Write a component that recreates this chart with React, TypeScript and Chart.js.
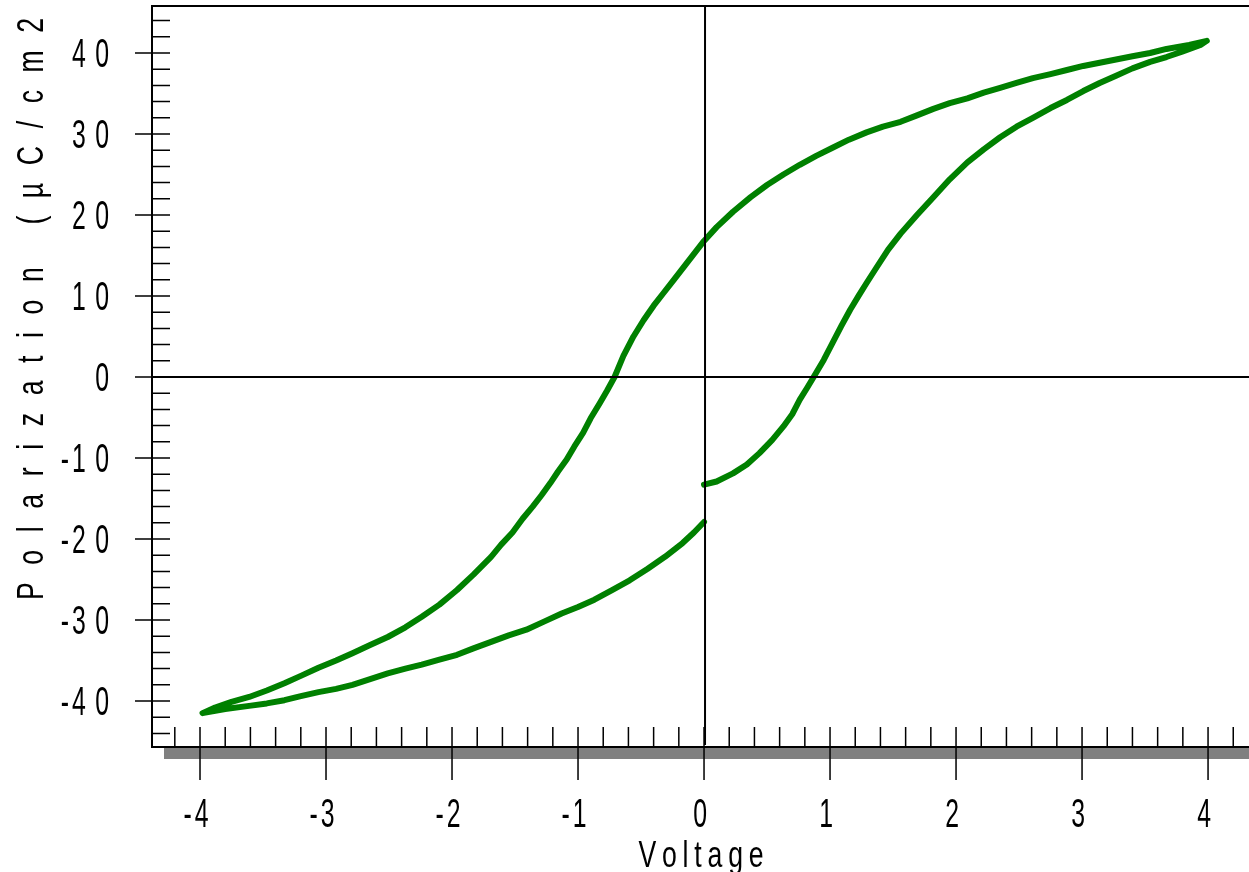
import React, { useEffect, useRef } from "react";
import { Chart, registerables } from "chart.js";

Chart.register(...registerables);

// Rising branch (0 V -> +4 V)
const riseV = [0.0, 0.1, 0.23, 0.34, 0.44, 0.54, 0.63, 0.7, 0.76, 0.82, 0.87, 0.95, 1.02, 1.09, 1.16, 1.23, 1.29, 1.36, 1.46, 1.56, 1.69, 1.82, 1.95, 2.09, 2.22, 2.35, 2.48, 2.61, 2.75, 2.88, 3.01, 3.14, 3.27, 3.4, 3.54, 3.67, 3.8, 3.94, 3.99];
const riseP = [-13.3, -12.9, -11.9, -10.8, -9.4, -7.8, -6.1, -4.6, -2.8, -1.3, 0, 2.1, 4.2, 6.3, 8.3, 10.1, 11.6, 13.3, 15.7, 17.7, 20.0, 22.2, 24.4, 26.5, 28.1, 29.6, 30.9, 32.0, 33.2, 34.2, 35.3, 36.3, 37.2, 38.1, 38.9, 39.5, 40.2, 41.0, 41.5];

// Upper branch (+4 V -> -4 V)
const upperV = [3.99, 3.85, 3.67, 3.54, 3.4, 3.27, 3.14, 3.01, 2.88, 2.75, 2.61, 2.48, 2.35, 2.22, 2.09, 1.95, 1.82, 1.69, 1.56, 1.42, 1.29, 1.15, 1.02, 0.89, 0.76, 0.63, 0.5, 0.37, 0.23, 0.1, 0.0, -0.08, -0.16, -0.24, -0.32, -0.4, -0.48, -0.56, -0.64, -0.71, -0.77, -0.83, -0.9, -0.96, -1.03, -1.09, -1.16, -1.22, -1.29, -1.36, -1.44, -1.52, -1.61, -1.69, -1.83, -1.96, -2.1, -2.24, -2.37, -2.51, -2.65, -2.79, -2.92, -3.06, -3.2, -3.33, -3.47, -3.61, -3.75, -3.88, -3.98];
const upperP = [41.5, 41.0, 40.5, 40.0, 39.6, 39.2, 38.8, 38.4, 37.9, 37.4, 36.9, 36.3, 35.7, 35.1, 34.4, 33.8, 33.1, 32.3, 31.5, 30.9, 30.2, 29.3, 28.3, 27.3, 26.2, 25.0, 23.7, 22.2, 20.4, 18.5, 16.8, 15.2, 13.6, 12.0, 10.4, 8.8, 7.0, 5.0, 2.6, 0, -1.7, -3.3, -5.1, -6.9, -8.6, -10.2, -11.7, -13.1, -14.6, -16.0, -17.5, -19.2, -20.7, -22.2, -24.4, -26.3, -28.1, -29.6, -30.9, -32.1, -33.1, -34.1, -35.0, -35.9, -36.9, -37.8, -38.7, -39.5, -40.1, -40.8, -41.5];

// Lower branch (-4 V -> 0 V)
const lowerV = [-3.98, -3.8, -3.61, -3.47, -3.33, -3.2, -3.06, -2.92, -2.79, -2.65, -2.51, -2.37, -2.24, -2.1, -1.96, -1.83, -1.69, -1.55, -1.41, -1.27, -1.13, -1.0, -0.87, -0.73, -0.59, -0.45, -0.31, -0.17, -0.08, 0.0];
const lowerP = [-41.5, -41.0, -40.6, -40.3, -39.9, -39.4, -38.9, -38.5, -38.0, -37.3, -36.6, -36.0, -35.5, -34.9, -34.3, -33.5, -32.7, -31.9, -31.2, -30.2, -29.2, -28.4, -27.5, -26.3, -25.1, -23.7, -22.2, -20.5, -19.2, -17.9];

const xTickValues = [-4, -3, -2, -1, 0, 1, 2, 3, 4];
const xTickLabels = ["-4", "-3", "-2", "-1", "0", "1", "2", "3", "4"];
const yTickValues = [-40, -30, -20, -10, 0, 10, 20, 30, 40];
const yTickLabels = ["-40", "-30", "-20", "-10", "0", "10", "20", "30", "40"];

const xTitle = "Voltage";
const yTitle = "Polarization (µC/cm2";

function toPoints(vs: number[], ps: number[]) {
  return vs.map((v, i) => ({ x: v, y: ps[i] }));
}

function drawSpaced(
  ctx: CanvasRenderingContext2D,
  text: string,
  x: number,
  y: number,
  font: string,
  scaleX: number,
  spacing: number,
  align: "left" | "center" | "right",
  rotate = false
) {
  ctx.save();
  ctx.translate(x, y);
  if (rotate) ctx.rotate(-Math.PI / 2);
  ctx.font = font;
  ctx.fillStyle = "#000";
  ctx.textBaseline = "alphabetic";
  ctx.textAlign = "left";
  const chars = Array.from(text);
  const widths = chars.map((c) => ctx.measureText(c).width * scaleX);
  const gaps = chars.map((c) => (c === "-" ? 3 : spacing));
  let total = 0;
  widths.forEach((w, i) => {
    total += w;
    if (i < chars.length - 1) total += gaps[i];
  });
  let start = align === "right" ? -total : align === "center" ? -total / 2 : 0;
  chars.forEach((c, i) => {
    ctx.save();
    ctx.translate(start, 0);
    ctx.scale(scaleX, 1);
    ctx.fillText(c, 0, 0);
    ctx.restore();
    start += widths[i] + gaps[i];
  });
  ctx.restore();
}

const decorPlugin = {
  id: "decor",
  afterDatasetsDraw(chart: any) {
    const ctx: CanvasRenderingContext2D = chart.ctx;
    const xs = chart.scales.x;
    const ys = chart.scales.y;
    const a = chart.chartArea;
    ctx.save();
    // gray bar under x axis
    ctx.fillStyle = "#808080";
    ctx.fillRect(a.left + 12, a.bottom + 1, a.right - a.left - 12, 11);

    ctx.strokeStyle = "#000";
    // zero lines
    ctx.lineWidth = 2;
    const x0 = xs.getPixelForValue(0);
    const y0 = ys.getPixelForValue(0);
    ctx.beginPath();
    ctx.moveTo(x0 + 1, a.top);
    ctx.lineTo(x0 + 1, a.bottom - 2);
    ctx.moveTo(a.left, y0);
    ctx.lineTo(a.right, y0);
    ctx.stroke();

    // frame
    ctx.beginPath();
    ctx.moveTo(a.right, a.top);
    ctx.lineTo(a.left, a.top);
    ctx.lineTo(a.left, a.bottom);
    ctx.lineTo(a.right, a.bottom);
    ctx.stroke();

    // y ticks
    ctx.lineWidth = 1.5;
    ctx.beginPath();
    for (let v = -44; v <= 44; v += 2) {
      const py = ys.getPixelForValue(v);
      ctx.moveTo(a.left, py);
      ctx.lineTo(a.left + 18, py);
    }
    yTickValues.forEach((v) => {
      const py = ys.getPixelForValue(v);
      ctx.moveTo(a.left - 17, py);
      ctx.lineTo(a.left + 18, py);
    });
    // x ticks
    for (let k = -21; k <= 21; k++) {
      const px = xs.getPixelForValue(k * 0.2);
      ctx.moveTo(px, a.bottom - 20);
      ctx.lineTo(px, a.bottom);
    }
    xTickValues.forEach((v) => {
      const px = xs.getPixelForValue(v);
      ctx.moveTo(px, a.bottom - 20);
      ctx.lineTo(px, a.bottom + 33);
    });
    ctx.stroke();

    // tick labels
    const tickFont = '40px "Liberation Sans", Arial, sans-serif';
    yTickValues.forEach((v, i) => {
      const py = ys.getPixelForValue(v);
      drawSpaced(ctx, yTickLabels[i], 109, py + 14, tickFont, 0.62, 9.5, "right");
    });
    xTickValues.forEach((v, i) => {
      const px = xs.getPixelForValue(v);
      drawSpaced(ctx, xTickLabels[i], px - 4, a.bottom + 80, tickFont, 0.62, 9.5, "center");
    });

    // titles
    const titleFont = '37px "Liberation Sans", Arial, sans-serif';
    drawSpaced(ctx, xTitle, 701, 867, titleFont, 0.72, 5.8, "center");
    drawSpaced(ctx, yTitle, 43, 600, titleFont, 0.72, 17.6, "left", true);
    ctx.restore();
  },
};

export default function App() {
  const ref = useRef<HTMLCanvasElement | null>(null);
  useEffect(() => {
    document.body.style.margin = "0";
    const canvas = ref.current;
    if (!canvas) return;
    const data = [
      ...toPoints(riseV, riseP),
      ...toPoints(upperV, upperP),
      ...toPoints(lowerV, lowerP),
    ];
    const chart = new Chart(canvas, {
      type: "scatter",
      data: {
        datasets: [
          {
            data,
            showLine: true,
            borderColor: "#008000",
            backgroundColor: "#008000",
            borderWidth: 6,
            pointRadius: 0,
            tension: 0,
            borderJoinStyle: "round",
            borderCapStyle: "round",
          } as any,
        ],
      },
      options: {
        responsive: false,
        animation: false,
        layout: { padding: { left: 152, top: 6, right: 0, bottom: 125 } },
        plugins: { legend: { display: false }, tooltip: { enabled: false } },
        scales: {
          x: { type: "linear", min: -4.381, max: 4.325, display: false },
          y: { type: "linear", min: -45.68, max: 45.8, display: false },
        },
      },
      plugins: [decorPlugin],
    });
    return () => chart.destroy();
  }, []);
  return <canvas ref={ref} width={1249} height={872} style={{ display: "block" }} />;
}
